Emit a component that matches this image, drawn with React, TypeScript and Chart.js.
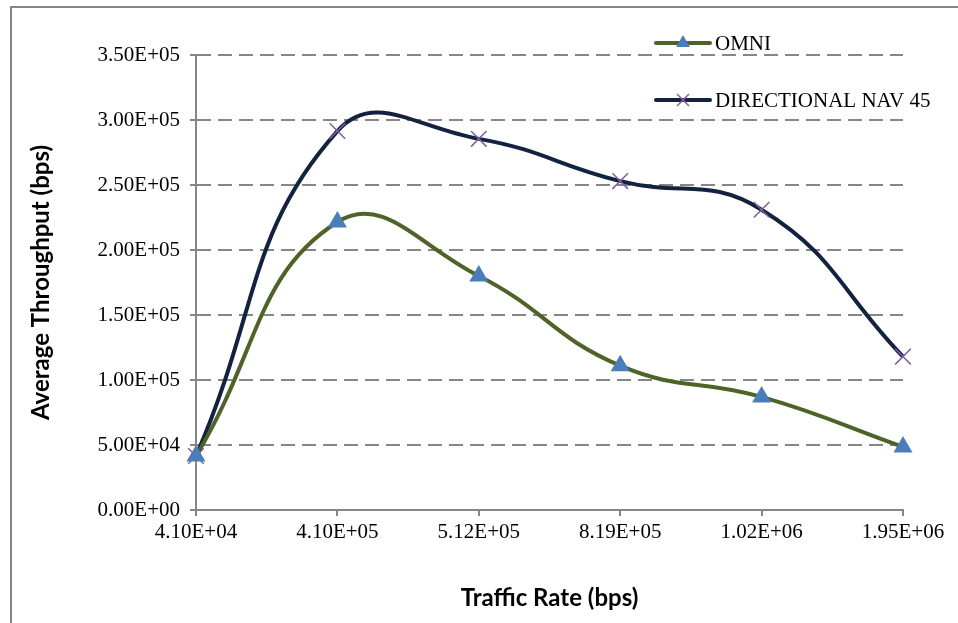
import React, { useEffect, useRef } from "react";
import { Chart, registerables } from "chart.js";

Chart.register(...registerables);

const categories = ["4.10E+04", "4.10E+05", "5.12E+05", "8.19E+05", "1.02E+06", "1.95E+06"];
const omniValues = [41500, 221500, 180000, 111000, 87000, 48500];
const directionalValues = [41500, 291500, 285500, 253000, 231000, 118000];
const seriesNames = ["OMNI", "DIRECTIONAL NAV 45"];

const GRID = "#868686";
const SERIF = "'Liberation Serif', 'Times New Roman', serif";

const fmtExp = (v: number) => {
  if (v === 0) return "0.00E+00";
  const s = v.toExponential(2).toUpperCase();
  const [m, e] = s.split("E");
  const sign = e[0] === "-" ? "-" : "+";
  const digits = e.replace(/[+-]/, "").padStart(2, "0");
  return `${m}E${sign}${digits}`;
};

const framePlugin = {
  id: "frame",
  beforeDraw(chart: any) {
    const ctx = chart.ctx;
    ctx.save();
    ctx.fillStyle = "#ffffff";
    ctx.fillRect(0, 0, chart.width, chart.height);
    ctx.strokeStyle = GRID;
    ctx.lineWidth = 2;
    ctx.beginPath();
    ctx.moveTo(11, chart.height + 2);
    ctx.lineTo(11, 7);
    ctx.lineTo(chart.width + 2, 7);
    ctx.stroke();
    ctx.restore();
  },
};

const legendPlugin = {
  id: "customLegend",
  afterDraw(chart: any) {
    const ctx = chart.ctx;
    const items = chart.data.datasets;
    const x0 = 656;
    const ys = [43, 100];
    ctx.save();
    items.forEach((ds: any, i: number) => {
      const y = ys[i];
      ctx.strokeStyle = ds.borderColor;
      ctx.lineWidth = 4;
      ctx.lineCap = "round";
      ctx.beginPath();
      ctx.moveTo(x0, y);
      ctx.lineTo(x0 + 54, y);
      ctx.stroke();
      const cx = x0 + 27;
      if (ds.pointStyle === "triangle") {
        ctx.fillStyle = ds.pointBackgroundColor;
        const r = 8;
        ctx.beginPath();
        ctx.moveTo(cx, y - r);
        ctx.lineTo(cx + r * 0.866, y + r * 0.5);
        ctx.lineTo(cx - r * 0.866, y + r * 0.5);
        ctx.closePath();
        ctx.fill();
      } else {
        ctx.strokeStyle = ds.pointBorderColor;
        ctx.lineWidth = 1.5;
        ctx.lineCap = "butt";
        const h = 6;
        ctx.beginPath();
        ctx.moveTo(cx - h, y - h);
        ctx.lineTo(cx + h, y + h);
        ctx.moveTo(cx + h, y - h);
        ctx.lineTo(cx - h, y + h);
        ctx.stroke();
      }
      ctx.fillStyle = "#000000";
      ctx.font = `21px ${SERIF}`;
      ctx.textBaseline = "middle";
      ctx.textAlign = "left";
      ctx.fillText(ds.label, x0 + 59, y + 1);
    });
    ctx.restore();
  },
};

export default function App() {
  const ref = useRef<HTMLCanvasElement | null>(null);

  useEffect(() => {
    if (!ref.current) return;
    const chart = new Chart(ref.current, {
      type: "line",
      data: {
        labels: categories,
        datasets: [
          {
            label: seriesNames[0],
            data: omniValues,
            borderColor: "#4F6228",
            backgroundColor: "#4F6228",
            borderWidth: 4,
            tension: 0.45,
            pointStyle: "triangle",
            pointRadius: 11,
            pointBackgroundColor: "#4A7EBB",
            pointBorderColor: "#4A7EBB",
            pointBorderWidth: 0,
            clip: false as any,
          },
          {
            label: seriesNames[1],
            data: directionalValues,
            borderColor: "#13233F",
            backgroundColor: "#13233F",
            borderWidth: 4,
            tension: 0.45,
            pointStyle: "crossRot",
            pointRadius: 11,
            pointBackgroundColor: "#7F60A0",
            pointBorderColor: "#7F60A0",
            pointBorderWidth: 1.5,
            clip: false as any,
          },
        ],
      },
      options: {
        responsive: false,
        animation: false,
        devicePixelRatio: 1,
        layout: { padding: { left: 0, right: 55, top: 55, bottom: 0 } },
        plugins: {
          legend: { display: false },
          tooltip: { enabled: false },
        },
        scales: {
          x: {
            type: "category",
            offset: false,
            afterFit: (s: any) => {
              s.height = 113;
            },
            grid: {
              drawOnChartArea: false,
              drawTicks: true,
              tickLength: 6,
              color: GRID,
              lineWidth: 2,
            },
            border: { display: true, color: GRID, width: 2 },
            ticks: {
              color: "#000000",
              font: { family: SERIF, size: 21 },
              padding: 4,
              maxRotation: 0,
              autoSkip: false,
            },
            title: {
              display: true,
              text: "Traffic Rate (bps)",
              color: "#000000",
              font: { family: "Lato", size: 24, weight: "bold" },
              padding: { top: 0, bottom: 10 },
            },
          },
          y: {
            min: 0,
            max: 350000,
            afterFit: (s: any) => {
              s.width = 196;
            },
            grid: {
              drawOnChartArea: true,
              drawTicks: true,
              tickLength: 6,
              color: GRID,
              lineWidth: 2,
              tickBorderDash: [],
            } as any,
            border: { display: true, color: GRID, width: 2, dash: [14, 7] },
            ticks: {
              stepSize: 50000,
              color: "#000000",
              font: { family: SERIF, size: 21 },
              padding: 10,
              callback: (v: any) => fmtExp(Number(v)),
            },
            title: {
              display: true,
              text: "Average Throughput (bps)",
              color: "#000000",
              font: { family: "Lato", size: 24, weight: "bold" },
              padding: { top: 27, bottom: 0 },
            },
          },
        },
      },
      plugins: [framePlugin, legendPlugin],
    });
    return () => chart.destroy();
  }, []);

  return (
    <div style={{ position: "absolute", left: 0, top: 0, width: 958, height: 623 }}>
      <canvas ref={ref} width={958} height={623} style={{ width: 958, height: 623 }} />
    </div>
  );
}
